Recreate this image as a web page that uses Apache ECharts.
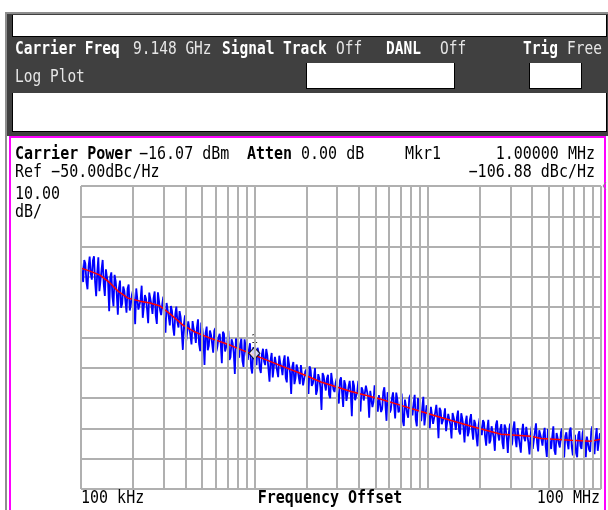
<!DOCTYPE html>
<html>
<head>
<meta charset="utf-8">
<script src="https://cdn.jsdelivr.net/npm/echarts@6/dist/echarts.min.js"></script>
<style>
html,body{margin:0;padding:0;background:#fff;}
#chart{width:608px;height:510px;}
</style>
</head>
<body>
<div id="chart"></div>
<script>
// ---- data ----
const sweepStartHz = 1e5;
const sweepStopHz = 1e8;
const yTicks = [-150, -140, -130, -120, -110, -100, -90, -80, -70, -60, -50];
const gridFreqs = [
  1e5, 2e5, 3e5, 4e5, 5e5, 6e5, 7e5, 8e5, 9e5,
  1e6, 2e6, 3e6, 4e6, 5e6, 6e6, 7e6, 8e6, 9e6,
  1e7, 2e7, 3e7, 4e7, 5e7, 6e7, 7e7, 8e7, 9e7, 1e8
];
// smoothed trace (red)
const smoothFreqs = [1.0e5, 1.127e5, 1.287e5, 1.47e5, 1.635e5, 1.867e5, 2.19e5, 2.501e5, 2.856e5, 3.263e5,
  3.877e5, 4.547e5, 5.549e5, 7.238e5, 1.0e6, 1.407e6, 1.934e6, 2.424e6, 3.612e6, 5.38e6,
  7.018e6, 9.153e6, 1.194e7, 1.778e7, 2.65e7, 3.947e7, 4.507e7, 6.713e7, 8.755e7, 1.0e8];
const smoothLevels = [-77.1, -78.1, -79.4, -82.0, -84.7, -87.0, -88.0, -88.6, -89.6, -92.2,
  -95.9, -98.2, -100.2, -102.5, -105.8, -109.2, -112.3, -114.7, -117.8, -120.4,
  -122.4, -124.4, -126.4, -129.3, -131.9, -132.6, -133.3, -133.9, -134.2, -133.6];
// raw phase noise trace (blue), one value per sweep point
const rawLevels = [
  -74.9, -78.8, -81.7, -74.4, -75.6, -81.6, -84.1, -76.6, -73.3, -79.0, -80.9, -74.6, -73.2, -81.7, -86.4, -78.6, -73.5, -84.7, -81.2, -77.5,
  -74.4, -82.6, -86.3, -77.5, -80.3, -81.9, -91.3, -80.1, -78.5, -86.4, -89.7, -79.3, -81.4, -85.6, -92.5, -83.7, -81.2, -90.2, -88.9, -83.2,
  -84.6, -88.0, -91.8, -83.8, -82.5, -91.1, -89.2, -85.9, -84.4, -88.3, -95.6, -83.8, -84.2, -90.8, -90.3, -87.6, -82.9, -93.5, -92.9, -86.0,
  -87.2, -90.7, -95.3, -85.2, -85.5, -89.2, -92.2, -87.0, -84.8, -92.8, -95.5, -85.1, -87.9, -91.0, -92.6, -89.0, -86.5, -95.5, -98.4, -88.6,
  -88.6, -93.3, -96.0, -89.6, -91.2, -96.7, -99.4, -92.4, -89.8, -95.0, -96.7, -91.3, -93.3, -98.1, -104.1, -95.6, -92.7, -101.4, -98.2, -94.7,
  -94.3, -99.3, -102.3, -94.6, -97.2, -98.5, -101.8, -96.7, -94.0, -102.2, -104.5, -95.1, -97.1, -100.6, -109.1, -98.6, -96.4, -104.2, -102.7, -97.7,
  -99.1, -101.9, -105.0, -97.8, -96.9, -104.6, -102.8, -99.9, -98.8, -102.2, -108.5, -98.1, -98.8, -104.6, -104.1, -101.7, -97.8, -107.4, -106.5, -100.6,
  -101.9, -105.1, -112.0, -100.3, -100.8, -104.1, -106.7, -102.2, -100.4, -107.7, -109.7, -100.6, -103.2, -106.1, -107.4, -104.1, -101.9, -109.8, -111.9, -103.2,
  -103.0, -107.4, -109.1, -103.4, -105.1, -110.2, -111.7, -105.6, -103.7, -107.9, -109.1, -103.8, -105.9, -110.3, -114.6, -107.5, -105.1, -113.2, -109.6, -106.4,
  -106.3, -110.9, -113.1, -106.0, -108.6, -109.8, -112.4, -107.9, -105.9, -113.4, -114.8, -106.3, -108.6, -111.7, -118.6, -109.7, -108.1, -115.4, -113.5, -108.9,
  -110.5, -113.1, -115.4, -109.1, -108.8, -115.8, -113.7, -111.2, -110.5, -113.5, -118.6, -109.5, -110.7, -116.0, -115.2, -113.2, -110.1, -118.9, -117.4, -112.1,
  -113.5, -116.6, -123.9, -111.7, -112.7, -115.4, -117.5, -113.5, -112.3, -118.9, -120.0, -111.7, -114.6, -117.1, -118.0, -115.1, -113.5, -120.7, -121.8, -114.1,
  -113.1, -118.2, -122.9, -114.1, -115.6, -120.9, -121.3, -116.2, -114.3, -118.4, -126.0, -114.3, -115.8, -120.7, -121.2, -117.8, -114.3, -123.3, -124.4, -116.4,
  -117.4, -120.8, -121.0, -115.9, -116.1, -119.6, -126.5, -117.6, -117.1, -123.0, -121.2, -115.8, -116.1, -121.1, -124.5, -119.0, -119.5, -124.6, -123.6, -118.0,
  -116.4, -122.2, -127.5, -118.1, -119.2, -124.8, -123.9, -120.1, -118.1, -122.3, -126.7, -118.2, -120.4, -124.7, -124.0, -121.8, -118.5, -127.4, -129.2, -120.5,
  -120.1, -124.9, -126.5, -120.0, -118.9, -123.7, -125.7, -121.8, -118.9, -127.2, -129.3, -120.0, -119.6, -125.4, -127.6, -123.3, -119.6, -129.0, -128.9, -122.4,
  -123.2, -126.3, -129.9, -122.9, -122.4, -128.5, -128.0, -124.6, -122.2, -126.6, -133.2, -123.2, -124.1, -128.6, -128.3, -126.2, -123.4, -130.9, -131.4, -125.2,
  -125.8, -128.9, -133.3, -124.9, -124.8, -128.0, -130.5, -126.4, -124.1, -130.9, -132.0, -125.0, -126.8, -129.6, -134.6, -127.9, -125.8, -132.6, -131.2, -127.1,
  -125.3, -130.6, -133.7, -127.2, -128.5, -132.8, -135.9, -128.9, -126.6, -130.7, -132.2, -127.3, -128.0, -132.7, -135.7, -130.3, -127.2, -135.0, -134.0, -129.3,
  -129.7, -133.0, -137.4, -128.9, -127.4, -132.0, -134.0, -130.3, -128.6, -134.8, -136.8, -128.7, -129.9, -133.1, -138.1, -131.2, -128.4, -135.8, -135.1, -130.1,
  -127.7, -133.5, -136.2, -129.9, -130.5, -135.4, -138.0, -131.3, -128.5, -133.1, -134.2, -129.5, -129.7, -134.8, -138.6, -132.2, -129.3, -136.8, -136.4, -131.1,
  -128.3, -134.7, -137.6, -130.6, -131.0, -133.6, -135.7, -131.9, -129.8, -136.2, -139.4, -130.2, -130.5, -134.5, -136.8, -132.7, -129.3, -137.2, -138.7, -131.5,
  -132.0, -134.9, -136.3, -131.3, -130.0, -136.8, -139.6, -132.7, -131.3, -134.5, -136.9, -130.9, -129.7, -136.1, -138.9, -133.6, -132.1, -138.1, -139.5, -132.2,
  -130.9, -135.8, -136.8, -131.5, -130.2, -134.4, -139.5, -132.7, -132.1, -137.0, -137.7, -130.9, -129.3, -135.1, -138.5, -133.1, -129.9, -137.4, -137.5, -131.6,
  -132.3
];
const markerFreq = [1e6];
const markerLevel = [-106.88];
const markerLabels = ['1'];

// ---- build ----
const n = rawLevels.length;
const rawData = rawLevels.map((v, i) => [sweepStartHz * Math.pow(sweepStopHz / sweepStartHz, i / (n - 1)), v]);
const smoothData = smoothFreqs.map((f, i) => [f, smoothLevels[i]]);
const markerData = markerFreq.map((f, i) => [f, markerLevel[i]]);

const MONO = '"DejaVu Sans Mono", monospace';
function txt(text, x, y, opts) {
  opts = opts || {};
  return {
    type: 'text', x: x, y: y, z: 100, silent: true,
    scaleY: opts.sy || 1.15,
    style: {
      text: text,
      font: (opts.bold ? 'bold ' : '') + (opts.size || 15) + 'px ' + MONO,
      fill: opts.color || '#000',
      align: opts.align || 'left',
      verticalAlign: 'middle'
    }
  };
}
function rect(x, y, w, h, fill, z) {
  return { type: 'rect', z: z, silent: true, shape: { x: x, y: y, width: w, height: h }, style: { fill: fill } };
}

const chart = echarts.init(document.getElementById('chart'), null, { renderer: 'canvas' });
const graphics = [
  rect(5, 12, 603, 498, '#8e8e8e', -20),
  rect(7, 14, 601, 122, '#404040', -19),
  rect(12, 15, 595, 22, '#000000', -18),
  rect(13, 15, 593, 21, '#ffffff', -17),
  rect(306, 63, 149, 26, '#000000', -18),
  rect(307, 63, 147, 25, '#ffffff', -17),
  rect(529, 63, 53, 26, '#000000', -18),
  rect(530, 63, 51, 25, '#ffffff', -17),
  rect(12, 93, 595, 39, '#000000', -18),
  rect(13, 93, 593, 38, '#ffffff', -17),
  rect(7, 136, 601, 374, '#ffffff', -18),
  { type: 'rect', z: -16, silent: true, shape: { x: 10, y: 137, width: 595, height: 400 },
    style: { fill: 'none', stroke: '#ff00ff', lineWidth: 2 } },
  { type: 'polyline', z: 50, silent: true, shape: { points: [[606, 182], [603, 186], [606, 190]] },
    style: { stroke: '#888', lineWidth: 1, fill: 'none' } },
  // top status bar
  txt('Carrier Freq', 15, 49, { bold: true, color: '#ffffff', size: 14.5, sy: 1.2 }),
  txt('9.148 GHz', 133, 49, { color: '#e6e6e6', size: 14.5, sy: 1.2 }),
  txt('Signal Track', 222, 49, { bold: true, color: '#ffffff', size: 14.5, sy: 1.2 }),
  txt('Off', 336, 49, { color: '#e6e6e6', size: 14.5, sy: 1.2 }),
  txt('DANL', 386, 49, { bold: true, color: '#ffffff', size: 14.5, sy: 1.2 }),
  txt('Off', 440, 49, { color: '#e6e6e6', size: 14.5, sy: 1.2 }),
  txt('Trig', 523, 49, { bold: true, color: '#ffffff', size: 14.5, sy: 1.2 }),
  txt('Free', 567, 49, { color: '#e6e6e6', size: 14.5, sy: 1.2 }),
  txt('Log Plot', 15, 77, { color: '#e6e6e6', size: 14.5, sy: 1.2 }),
  // plot header
  txt('Carrier Power', 15, 155, { bold: true }),
  txt('\u221216.07 dBm', 139, 155),
  txt('Atten', 247, 155, { bold: true }),
  txt('0.00 dB', 301, 155),
  txt('Mkr1', 405, 155),
  txt('1.00000 MHz', 595, 155, { align: 'right' }),
  txt('\u2212106.88 dBc/Hz', 595, 173, { align: 'right' }),
  txt('Ref \u221250.00dBc/Hz', 15, 173),
  txt('10.00', 15, 195),
  txt('dB/', 15, 213),
  // footer
  txt('100 kHz', 81, 499),
  txt('Frequency Offset', 330, 499, { bold: true, align: 'center' }),
  txt('100 MHz', 600, 499, { align: 'right' })
];

chart.setOption({
  animation: false,
  backgroundColor: 'transparent',
  grid: { left: 81, top: 186, width: 520, height: 303, containLabel: false },
  xAxis: {
    type: 'log', logBase: 10, min: sweepStartHz, max: sweepStopHz,
    axisLine: { show: false }, axisTick: { show: false }, axisLabel: { show: false },
    splitLine: { show: false }
  },
  yAxis: {
    type: 'value', min: yTicks[0], max: yTicks[yTicks.length - 1], interval: 10,
    axisLine: { show: false }, axisTick: { show: false }, axisLabel: { show: false },
    splitLine: { show: true, lineStyle: { color: '#b0b0b0', width: 2 } }
  },
  graphic: graphics,
  series: [
    {
      type: 'line', data: [], silent: true, z: 1,
      markLine: {
        silent: true, symbol: ['none', 'none'], label: { show: false }, animation: false,
        lineStyle: { color: '#b0b0b0', width: 2, type: 'solid' },
        data: gridFreqs.map(f => ({ xAxis: f }))
      }
    },
    {
      type: 'line', data: rawData, showSymbol: false, silent: true, z: 2,
      lineStyle: { color: '#0000ff', width: 1.8 }
    },
    {
      type: 'line', data: smoothData, showSymbol: false, silent: true, z: 3,
      lineStyle: { color: '#ff0000', width: 1.5 }
    },
    {
      type: 'scatter', data: markerData, z: 4, silent: true,
      symbol: 'diamond', symbolSize: [11, 12], symbolOffset: [0, -5],
      itemStyle: { color: '#ffffff', borderColor: '#000000', borderWidth: 1.2 },
      label: { show: true, position: 'top', distance: 1, formatter: p => markerLabels[p.dataIndex],
        color: '#000', fontFamily: MONO, fontSize: 12 }
    }
  ]
});
</script>
</body>
</html>
